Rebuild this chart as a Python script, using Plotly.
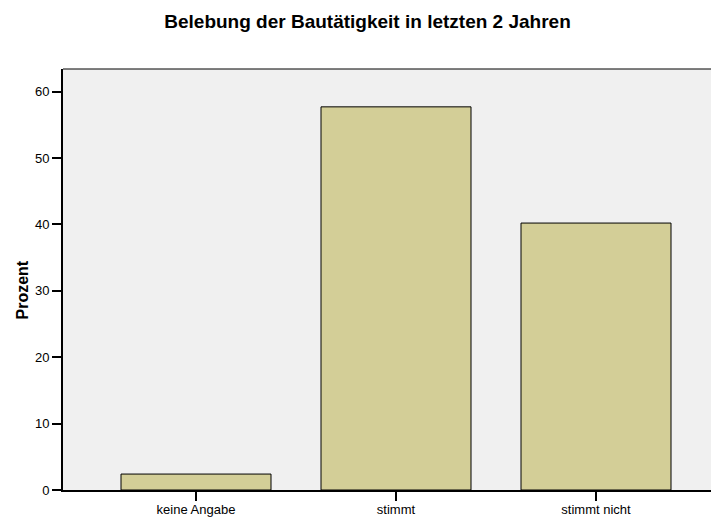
import plotly.graph_objects as go

categories = ["keine Angabe", "stimmt", "stimmt nicht"]
values = [2.4, 57.7, 40.2]
y_ticks = [0, 10, 20, 30, 40, 50, 60]

# page body has an 8px margin, so the figure is offset by 8px
OFF = 8
W, H = 719 - OFF, 518 - OFF
L, R, T, B = 63 - OFF, 0, 69 - OFF, 518 - 490
PH = 490 - 69

fig = go.Figure(go.Bar(
    x=categories, y=values, width=0.75,
    marker=dict(color="#D3CE97", line=dict(color="#000000", width=1)),
))

fig.update_layout(
    width=W, height=H,
    margin=dict(l=L, r=R, t=T, b=B, autoexpand=False),
    paper_bgcolor="#FFFFFF", plot_bgcolor="#F0F0F0",
    font=dict(family="Liberation Sans, Arial, sans-serif", size=13, color="#000000"),
    title=dict(text="<b>Belebung der Bautätigkeit in letzten 2 Jahren</b>",
               x=(367.5 - OFF) / W, xref="container", xanchor="center",
               y=1 - (21.5 - OFF) / H, yref="container", yanchor="middle",
               font=dict(size=19, color="#000000")),
    showlegend=False,
    bargap=0.25,
)
fig.update_xaxes(
    type="category", range=[-0.665, 2.615], automargin=False,
    showline=True, linecolor="#000000", linewidth=2,
    ticks="outside", ticklen=9, tickwidth=2, tickcolor="#000000",
    ticklabelstandoff=-3,
    showgrid=False, zeroline=False, tickfont=dict(size=13, color="#000000"),
)
fig.update_yaxes(
    range=[0, 63.4], tickvals=y_ticks, automargin=False,
    showline=True, linecolor="#000000", linewidth=2,
    ticks="outside", ticklen=9, tickwidth=2, tickcolor="#000000",
    showgrid=False, zeroline=False, tickfont=dict(size=13, color="#000000"),
)
fig.add_shape(type="line", xref="paper", yref="paper", x0=0, x1=1, y0=1, y1=1,
              line=dict(color="#000000", width=1))
fig.add_annotation(text="<b>Prozent</b>", xref="paper", yref="paper",
                   x=(21.5 - 63) / (W - L - R), y=(490 - 290) / PH, textangle=-90,
                   showarrow=False, xanchor="center", yanchor="middle",
                   font=dict(size=16, color="#000000"))

fig.write_html("out.html")
